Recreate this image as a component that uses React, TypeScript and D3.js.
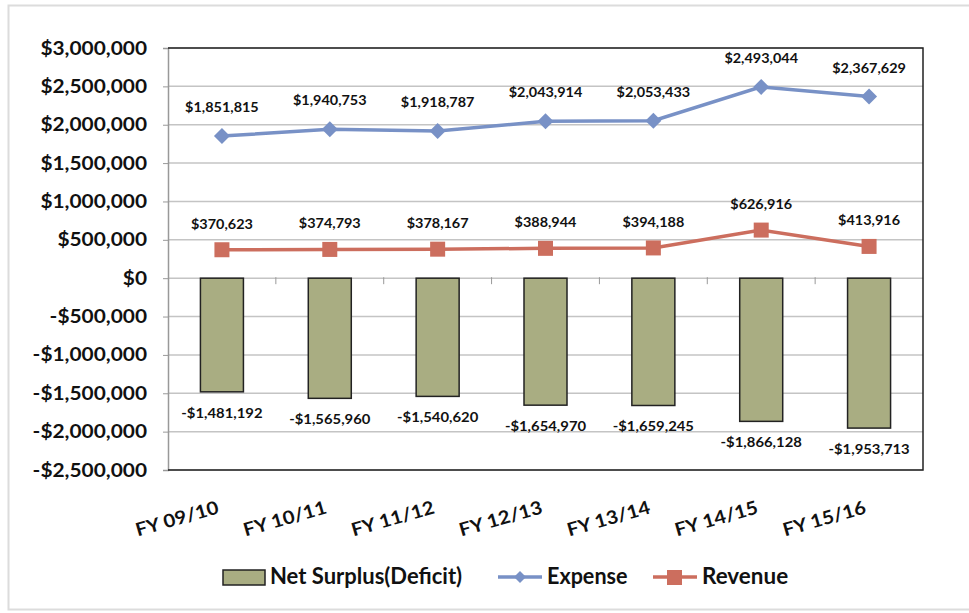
import { useEffect, useRef } from "react";
import * as d3 from "d3";

const years = ["FY 09/10", "FY 10/11", "FY 11/12", "FY 12/13", "FY 13/14", "FY 14/15", "FY 15/16"];
const expense = [1851815, 1940753, 1918787, 2043914, 2053433, 2493044, 2367629];
const revenue = [370623, 374793, 378167, 388944, 394188, 626916, 413916];
const surplus = [-1481192, -1565960, -1540620, -1654970, -1659245, -1866128, -1953713];
const yTicks = [3000000, 2500000, 2000000, 1500000, 1000000, 500000, 0, -500000, -1000000, -1500000, -2000000, -2500000];

const FONT = "Lato, 'Open Sans', sans-serif";
const BLUE = "#7891c6";
const RED = "#cc6e5e";
const OLIVE = "#a9ad82";
const DIAMOND = "M0,-8L8,0L0,8L-8,0Z";

const money = (v: number) => (v < 0 ? "-$" : "$") + d3.format(",")(Math.abs(v));

// bold text, optionally stretched sideways like the scanned Calibri
function label(
  g: d3.Selection<any, any, any, any>,
  x: number,
  y: number,
  txt: string,
  size: number,
  sx: number,
  anchor = "middle",
  rot = 0
) {
  g.append("g")
    .attr("transform", `translate(${x},${y}) rotate(${rot}) scale(${sx},1)`)
    .append("text")
    .attr("text-anchor", anchor)
    .attr("font-family", FONT)
    .attr("font-weight", 700)
    .attr("font-size", size)
    .attr("fill", "#111")
    .text(txt);
}

export default function App() {
  const ref = useRef<SVGSVGElement>(null);

  useEffect(() => {
    const w = 969,
      h = 613;
    const m = { left: 168, right: 923, top: 48, bottom: 470 };
    const svg = d3.select(ref.current);
    svg.selectAll("*").remove();

    svg.append("rect").attr("width", w).attr("height", h).attr("fill", "#fff");
    svg
      .append("rect")
      .attr("x", 8.5)
      .attr("y", 5.5)
      .attr("width", 975)
      .attr("height", 604)
      .attr("fill", "none")
      .attr("stroke", "#dcdcdc")
      .attr("stroke-width", 2);

    const x = d3.scaleBand().domain(years).range([m.left, m.right]);
    const y = d3.scaleLinear().domain([-2500000, 3000000]).range([m.bottom, m.top]);

    // gridlines
    svg
      .append("g")
      .selectAll("line")
      .data(yTicks)
      .join("line")
      .attr("x1", m.left)
      .attr("x2", m.right)
      .attr("y1", (d) => y(d))
      .attr("y2", (d) => y(d))
      .attr("stroke", "#c4c4c4")
      .attr("stroke-width", 1.5);

    // left axis
    const ya = svg
      .append("g")
      .attr("transform", `translate(${m.left},0)`)
      .call(d3.axisLeft(y).tickValues(yTicks).tickSize(5).tickFormat(() => ""));
    ya.select(".domain").attr("stroke", "#999").attr("stroke-width", 1.5);
    ya.selectAll(".tick line").attr("stroke", "#999");
    const yl = svg.append("g");
    yTicks.forEach((t) => label(yl, 147, y(t) + 6.5, money(t), 18, 1.16, "end"));

    // plot frame top/right/bottom
    svg
      .append("path")
      .attr("d", `M${m.left},${m.top}H${m.right}V${m.bottom}H${m.left}`)
      .attr("fill", "none")
      .attr("stroke", "#222")
      .attr("stroke-width", 1.5);

    // category ticks on zero line
    svg
      .append("g")
      .selectAll("line")
      .data(years.slice(1))
      .join("line")
      .attr("x1", (d) => x(d)!)
      .attr("x2", (d) => x(d)!)
      .attr("y1", y(0) - 1)
      .attr("y2", y(0) + 6)
      .attr("stroke", "#999");

    const bw = 43;
    const cx = (i: number) => x(years[i])! + x.bandwidth() / 2;

    // bars
    svg
      .append("g")
      .selectAll("rect")
      .data(surplus)
      .join("rect")
      .attr("x", (_, i) => cx(i) - bw / 2)
      .attr("width", bw)
      .attr("y", (d) => y(Math.max(0, d)))
      .attr("height", (d) => Math.abs(y(d) - y(0)))
      .attr("fill", OLIVE)
      .attr("stroke", "#222")
      .attr("stroke-width", 1.5);

    const line = d3
      .line<number>()
      .x((_, i) => cx(i))
      .y((d) => y(d));

    // expense
    svg.append("path").datum(expense).attr("d", line).attr("fill", "none").attr("stroke", BLUE).attr("stroke-width", 3.5);
    svg
      .append("g")
      .selectAll("path")
      .data(expense)
      .join("path")
      .attr("d", DIAMOND)
      .attr("transform", (d, i) => `translate(${cx(i)},${y(d)})`)
      .attr("fill", BLUE);

    // revenue
    svg.append("path").datum(revenue).attr("d", line).attr("fill", "none").attr("stroke", RED).attr("stroke-width", 3.5);
    svg
      .append("g")
      .selectAll("rect")
      .data(revenue)
      .join("rect")
      .attr("x", (_, i) => cx(i) - 7.5)
      .attr("y", (d) => y(d) - 7.5)
      .attr("width", 15)
      .attr("height", 15)
      .attr("fill", RED);

    // data labels
    const dl = svg.append("g");
    expense.forEach((v, i) => label(dl, cx(i), y(v) - 24, money(v), 14, 1.03));
    revenue.forEach((v, i) => label(dl, cx(i), y(v) - 21, money(v), 14, 1.03));
    surplus.forEach((v, i) => label(dl, cx(i), y(v) + 26, money(v), 14, 1.06));

    // x labels
    const xl = svg.append("g");
    years.forEach((d, i) => label(xl, cx(i) - 2, m.bottom + 43, d, 18.5, 1.1, "end", -16));

    // legend
    const lg = svg.append("g");
    lg.append("rect").attr("x", 223).attr("y", 570).attr("width", 42).attr("height", 15).attr("fill", OLIVE).attr("stroke", "#222").attr("stroke-width", 1.5);
    label(lg, 270, 584, "Net Surplus(Deficit)", 22, 1.0, "start");
    lg.append("line").attr("x1", 498).attr("x2", 542).attr("y1", 577).attr("y2", 577).attr("stroke", BLUE).attr("stroke-width", 3.5);
    lg.append("path").attr("d", DIAMOND).attr("transform", "translate(520,577) scale(0.75)").attr("fill", BLUE);
    label(lg, 547, 584, "Expense", 22, 0.98, "start");
    lg.append("line").attr("x1", 653).attr("x2", 697).attr("y1", 577).attr("y2", 577).attr("stroke", RED).attr("stroke-width", 3.5);
    lg.append("rect").attr("x", 667).attr("y", 570).attr("width", 15).attr("height", 15).attr("fill", RED);
    label(lg, 702, 584, "Revenue", 22, 1.02, "start");
  }, []);

  return <svg ref={ref} width={969} height={613} style={{ position: "absolute", left: 0, top: 0 }} />;
}
